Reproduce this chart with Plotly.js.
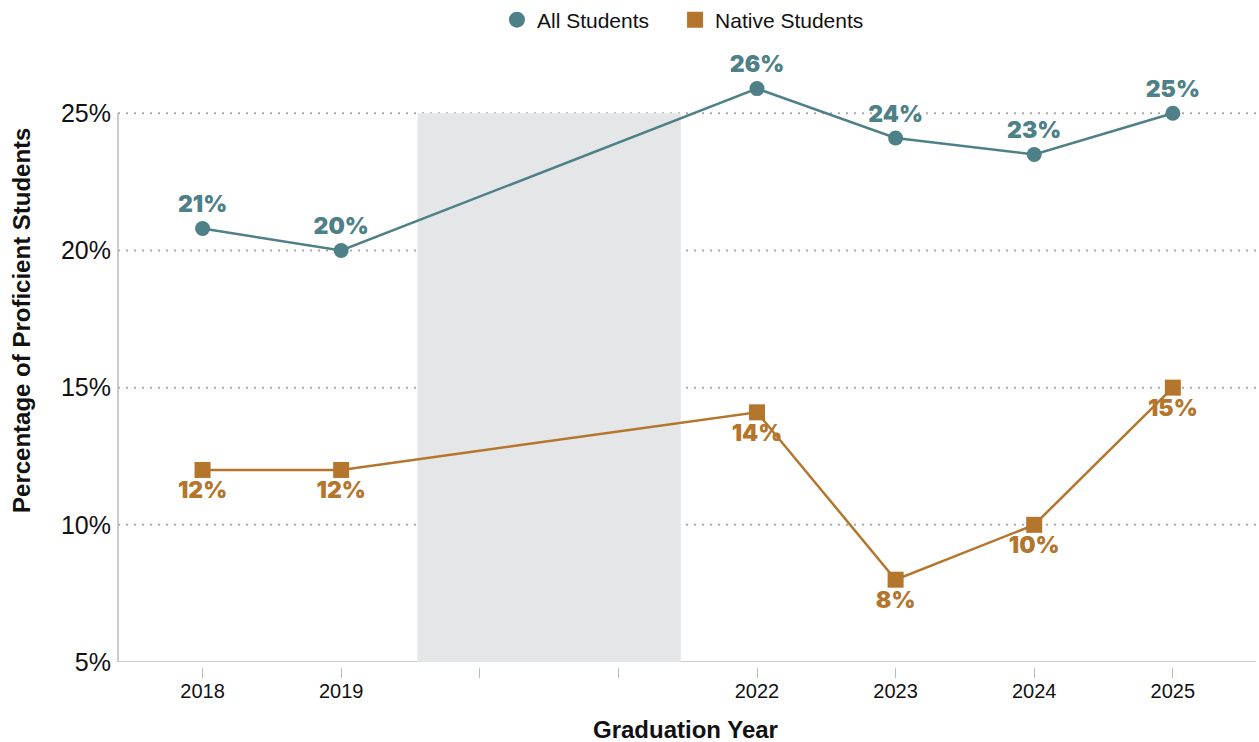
<!DOCTYPE html>
<html>
<head>
<meta charset="utf-8">
<script src="https://cdn.plot.ly/plotly-3.0.1.min.js"></script>
<style>html,body{margin:0;padding:0;background:#fff;}#chart{width:1259px;height:742px;}</style>
</head>
<body>
<div id="chart"></div>
<script>
const years = [2018, 2019, 2022, 2023, 2024, 2025];
const allStudents = [20.8, 20.0, 25.9, 24.1, 23.5, 25.0];
const allLabels = ['21%', '20%', '26%', '24%', '23%', '25%'];
const nativeStudents = [12.0, 12.0, 14.1, 8.0, 10.0, 15.0];
const nativeLabels = ['12%', '12%', '14%', '8%', '10%', '15%'];
const tickYears = [2018, 2019, 2020, 2021, 2022, 2023, 2024, 2025];
const tickLabels = ['2018', '2019', '', '', '2022', '2023', '2024', '2025'];
const yTicks = [5, 10, 15, 20, 25];
const yTickLabels = ['5%', '10%', '15%', '20%', '25%'];
const gapStart = 2019.55, gapEnd = 2021.45;

const teal = '#4e8087';
const orange = '#b3762c';
const labelFont = {family: 'Inter, "Open Sans", sans-serif', size: 23, weight: 900};

const traces = [
  {x: years, y: allStudents, text: allLabels, name: 'All Students', mode: 'lines+markers+text',
   textposition: 'top center', cliponaxis: false, showlegend: false, hoverinfo: 'skip',
   line: {color: teal, width: 2.5}, marker: {color: teal, size: 15, symbol: 'circle'},
   textfont: Object.assign({color: teal}, labelFont)},
  {x: years, y: nativeStudents, text: nativeLabels, name: 'Native Students', mode: 'lines+markers+text',
   textposition: 'bottom center', cliponaxis: false, showlegend: false, hoverinfo: 'skip',
   line: {color: orange, width: 2.5}, marker: {color: orange, size: 16, symbol: 'square'},
   textfont: Object.assign({color: orange}, labelFont)},
  {x: [null], y: [null], name: 'All Students', mode: 'markers', showlegend: true, legend: 'legend',
   marker: {color: teal, size: 22, symbol: 'circle'}},
  {x: [null], y: [null], name: 'Native Students', mode: 'markers', showlegend: true, legend: 'legend2',
   marker: {color: orange, size: 22, symbol: 'square'}}
];

const legendBase = {orientation: 'h', xanchor: 'left', yref: 'container', y: 0.973, yanchor: 'middle',
  bgcolor: 'rgba(0,0,0,0)', font: {size: 21, color: '#111111'}, itemclick: false, itemdoubleclick: false};

const layout = {
  width: 1259, height: 742,
  margin: {l: 118, r: 3, t: 31, b: 75, autoexpand: false},
  paper_bgcolor: '#ffffff', plot_bgcolor: '#ffffff',
  font: {family: '"Liberation Sans", Arial, Helvetica, sans-serif', color: '#111111'},
  showlegend: true,
  legend: Object.assign({x: 0.333}, legendBase),
  legend2: Object.assign({x: 0.4895}, legendBase),
  xaxis: {range: [2017.39, 2025.6], anchor: 'free', position: 0, showline: false, showgrid: false,
          zeroline: false, tickmode: 'array', tickvals: tickYears, ticktext: tickLabels,
          ticks: 'outside', ticklen: 10, tickwidth: 1, tickcolor: '#bbbbbb', ticklabelstandoff: -4,
          tickfont: {size: 20, color: '#111111'}, fixedrange: true},
  yaxis: {range: [5, 28], domain: [5/636, 1], showline: false,
          zeroline: false, showgrid: false,
          tickmode: 'array', tickvals: yTicks, ticktext: yTickLabels, ticks: '', ticklabelstandoff: 6,
          tickfont: {size: 25, color: '#111111'}, fixedrange: true},
  shapes: [
    {type: 'rect', xref: 'x', yref: 'y', x0: gapStart, x1: gapEnd, y0: 5, y1: 25,
     fillcolor: '#e5e6e8', line: {width: 0}, layer: 'below'}
  ].concat(yTicks.slice(1).map(v => ({type: 'line', xref: 'paper', yref: 'y', x0: 0, x1: 1, y0: v, y1: v,
     line: {color: '#aaaaaa', width: 2, dash: '2px,6px'}, layer: 'below'})))
   .concat([
    {type: 'line', xref: 'paper', yref: 'y', x0: 0, x1: 1, y0: 5, y1: 5,
     line: {color: '#bbbbbb', width: 1.5}, layer: 'below'},
    {type: 'line', xref: 'paper', yref: 'y', x0: 0, x1: 0, y0: 5, y1: 25,
     line: {color: '#bbbbbb', width: 1.5}, layer: 'below'}
  ]),
  annotations: [
    {text: 'Percentage of Proficient Students', xref: 'paper', yref: 'paper', x: -0.0844, y: 0.5456,
     xanchor: 'center', yanchor: 'middle', textangle: -90, showarrow: false,
     font: {size: 24, weight: 'bold', color: '#111111'}},
    {text: 'Graduation Year', xref: 'paper', yref: 'paper', x: 0.499, y: -0.0975,
     xanchor: 'center', yanchor: 'middle', showarrow: false,
     font: {size: 24, weight: 'bold', color: '#111111'}}
  ]
};

Plotly.newPlot('chart', traces, layout, {staticPlot: true, displayModeBar: false});
</script>
</body>
</html>
